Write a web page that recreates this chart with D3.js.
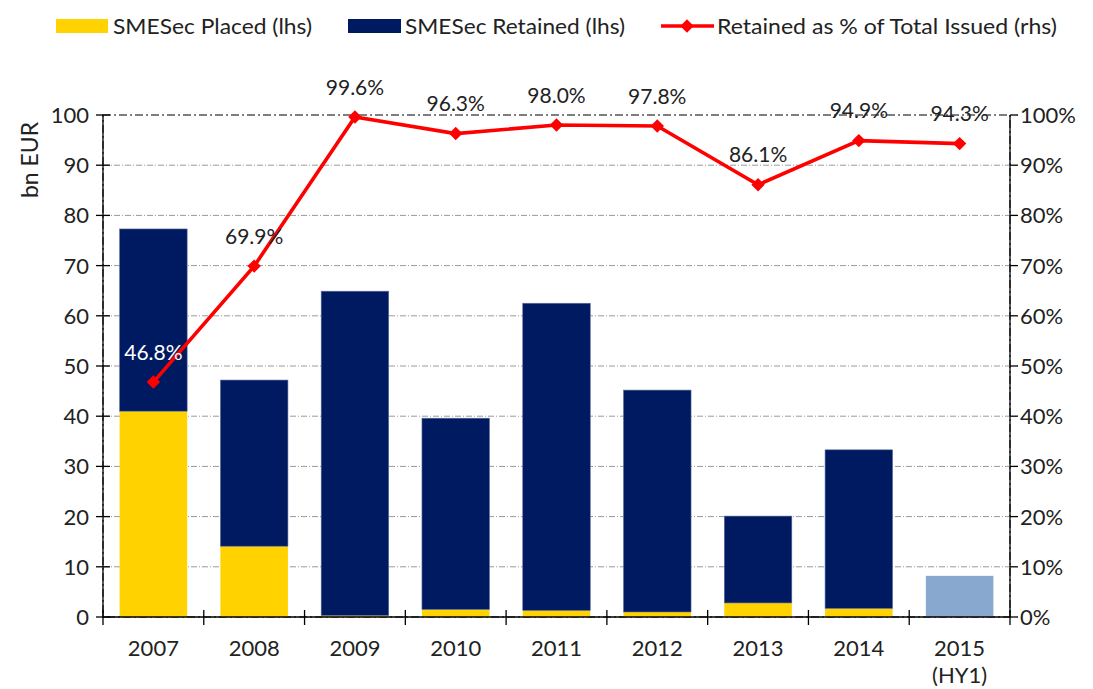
<!DOCTYPE html>
<html>
<head>
<meta charset="utf-8">
<script src="https://cdn.jsdelivr.net/npm/d3@7"></script>
<style>
  html, body { margin: 0; padding: 0; background: #fff; }
  svg text { font-family: "Lato", "Open Sans", sans-serif; font-weight: 400; fill: #222; }
</style>
</head>
<body>
<svg id="chart" width="1093" height="689"></svg>
<script>
// Categories and series (bn EUR, % retained)
const years = ["2007", "2008", "2009", "2010", "2011", "2012", "2013", "2014", "2015"];
const yearSub = ["", "", "", "", "", "", "", "", "(HY1)"];
const placed = [41.0, 14.1, 0.3, 1.5, 1.3, 1.0, 2.8, 1.7, 0];
const retained = [36.3, 33.1, 64.6, 38.1, 61.2, 44.2, 17.3, 31.6, 0];
const partialYear = [0, 0, 0, 0, 0, 0, 0, 0, 8.2];
const retainedPct = [46.8, 69.9, 99.6, 96.3, 98.0, 97.8, 86.1, 94.9, 94.3];
const leftTicks = [0, 10, 20, 30, 40, 50, 60, 70, 80, 90, 100];
const rightTicks = [0, 10, 20, 30, 40, 50, 60, 70, 80, 90, 100];
const legendLabels = ["SMESec Placed (lhs)", "SMESec Retained (lhs)", "Retained as % of Total Issued (rhs)"];

const colors = { placed: "#FFD200", retained: "#001A62", partial: "#88A8CF", line: "#FF0000" };

const svg = d3.select("#chart");
const m = { left: 103, right: 1010, top: 115, bottom: 617 };

const x = d3.scaleBand().domain(years).range([m.left, m.right]).paddingInner(0.33).paddingOuter(0.165);
const xEdge = d3.scaleLinear().domain([0, years.length]).range([m.left, m.right]);
const yL = d3.scaleLinear().domain([0, 100]).range([m.bottom, m.top]);
const yR = d3.scaleLinear().domain([0, 100]).range([m.bottom, m.top]);

// Horizontal dash-dot gridlines
svg.append("g").selectAll("line").data(leftTicks.slice(1, -1)).join("line")
  .attr("x1", m.left).attr("x2", m.right)
  .attr("y1", d => yL(d)).attr("y2", d => yL(d))
  .attr("stroke", "#9a9a9a").attr("stroke-width", 1)
  .attr("stroke-dasharray", "6,2,1,2");

// Plot frame (dash-dot)
svg.append("rect")
  .attr("x", m.left).attr("y", m.top)
  .attr("width", m.right - m.left).attr("height", m.bottom - m.top)
  .attr("fill", "none").attr("stroke", "#7f7f7f").attr("stroke-width", 2)
  .attr("stroke-dasharray", "8,3,2,3");

// Stacked bars
const barG = svg.append("g");
years.forEach((yr, i) => {
  const bx = x(yr), bw = x.bandwidth();
  if (placed[i] > 0) {
    barG.append("rect").attr("x", bx).attr("width", bw)
      .attr("y", yL(placed[i])).attr("height", yL(0) - yL(placed[i]))
      .attr("fill", colors.placed);
  }
  if (retained[i] > 0) {
    barG.append("rect").attr("x", bx).attr("width", bw)
      .attr("y", yL(placed[i] + retained[i])).attr("height", yL(placed[i]) - yL(placed[i] + retained[i]))
      .attr("fill", colors.retained).attr("stroke", "#5d6f9e").attr("stroke-width", 0.6);
  }
  if (partialYear[i] > 0) {
    barG.append("rect").attr("x", bx).attr("width", bw)
      .attr("y", yL(partialYear[i])).attr("height", yL(0) - yL(partialYear[i]))
      .attr("fill", colors.partial);
  }
});

// Left axis
const leftAxis = svg.append("g").attr("transform", `translate(${m.left},0)`);
leftAxis.append("line").attr("y1", m.top).attr("y2", m.bottom).attr("stroke", "#000").attr("stroke-width", 1.3);
leftAxis.selectAll("line.t").data(leftTicks).join("line").attr("class", "t")
  .attr("x1", -7).attr("x2", 7).attr("y1", d => yL(d)).attr("y2", d => yL(d))
  .attr("stroke", "#000").attr("stroke-width", 1.3);
leftAxis.selectAll("text").data(leftTicks).join("text")
  .attr("x", -14).attr("y", d => yL(d)).attr("dy", "0.36em")
  .attr("text-anchor", "end").attr("font-size", 22).text(d => d);

// Right axis
const rightAxis = svg.append("g").attr("transform", `translate(${m.right},0)`);
rightAxis.append("line").attr("y1", m.top).attr("y2", m.bottom).attr("stroke", "#000").attr("stroke-width", 1.3);
rightAxis.selectAll("line.t").data(rightTicks).join("line").attr("class", "t")
  .attr("x1", 0).attr("x2", 8).attr("y1", d => yR(d)).attr("y2", d => yR(d))
  .attr("stroke", "#000").attr("stroke-width", 1.3);
rightAxis.selectAll("text").data(rightTicks).join("text")
  .attr("x", 10).attr("y", d => yR(d)).attr("dy", "0.36em")
  .attr("text-anchor", "start").attr("font-size", 22).text(d => d + "%");

// Bottom axis
const bottomAxis = svg.append("g");
bottomAxis.append("line").attr("x1", m.left).attr("x2", m.right).attr("y1", m.bottom).attr("y2", m.bottom)
  .attr("stroke", "#000").attr("stroke-width", 1.3);
bottomAxis.selectAll("line.t").data(d3.range(years.length + 1)).join("line").attr("class", "t")
  .attr("x1", d => xEdge(d)).attr("x2", d => xEdge(d))
  .attr("y1", m.bottom - 7).attr("y2", m.bottom + 8)
  .attr("stroke", "#000").attr("stroke-width", 1.3);
const xl = bottomAxis.selectAll("text").data(years).join("text")
  .attr("x", d => x(d) + x.bandwidth() / 2).attr("y", m.bottom + 39)
  .attr("text-anchor", "middle").attr("font-size", 22);
xl.append("tspan").text(d => d);
xl.append("tspan").attr("x", d => x(d) + x.bandwidth() / 2).attr("dy", 27)
  .text((d, i) => yearSub[i]);

// Y axis title
svg.append("text").attr("transform", "translate(38,160) rotate(-90)")
  .attr("text-anchor", "middle").attr("font-size", 23).text("bn EUR");

// Retained % line with diamond markers
const cx = (d, i) => x(years[i]) + x.bandwidth() / 2;
svg.append("path").datum(retainedPct)
  .attr("d", d3.line().x(cx).y(d => yR(d)))
  .attr("fill", "none").attr("stroke", colors.line).attr("stroke-width", 3.6);
svg.append("g").selectAll("path").data(retainedPct).join("path")
  .attr("transform", (d, i) => `translate(${cx(d, i)},${yR(d)})`)
  .attr("d", d3.symbol(d3.symbolDiamond2, 115))
  .attr("fill", colors.line);

// Value labels
svg.append("g").selectAll("text").data(retainedPct).join("text")
  .attr("x", cx).attr("y", d => yR(d) - 30).attr("dy", "0.36em")
  .attr("text-anchor", "middle").attr("font-size", 21)
  .style("fill", (d, i) => i === 0 ? "#ffffff" : "#222")
  .text(d => d.toFixed(1) + "%");

// Legend
const legend = svg.append("g");
legend.append("rect").attr("x", 56).attr("y", 19).attr("width", 52).attr("height", 14).attr("fill", colors.placed);
legend.append("text").attr("x", 113).attr("y", 34).attr("font-size", 22)
  .attr("textLength", 199).attr("lengthAdjust", "spacingAndGlyphs").text(legendLabels[0]);
legend.append("rect").attr("x", 348).attr("y", 19).attr("width", 53).attr("height", 14).attr("fill", colors.retained);
legend.append("text").attr("x", 405).attr("y", 34).attr("font-size", 22)
  .attr("textLength", 220).attr("lengthAdjust", "spacingAndGlyphs").text(legendLabels[1]);
legend.append("line").attr("x1", 661).attr("x2", 714).attr("y1", 26).attr("y2", 26)
  .attr("stroke", colors.line).attr("stroke-width", 3.6);
legend.append("path").attr("transform", "translate(687,26)")
  .attr("d", d3.symbol(d3.symbolDiamond2, 115)).attr("fill", colors.line);
legend.append("text").attr("x", 717).attr("y", 34).attr("font-size", 22)
  .attr("textLength", 340).attr("lengthAdjust", "spacingAndGlyphs").text(legendLabels[2]);
</script>
</body>
</html>
